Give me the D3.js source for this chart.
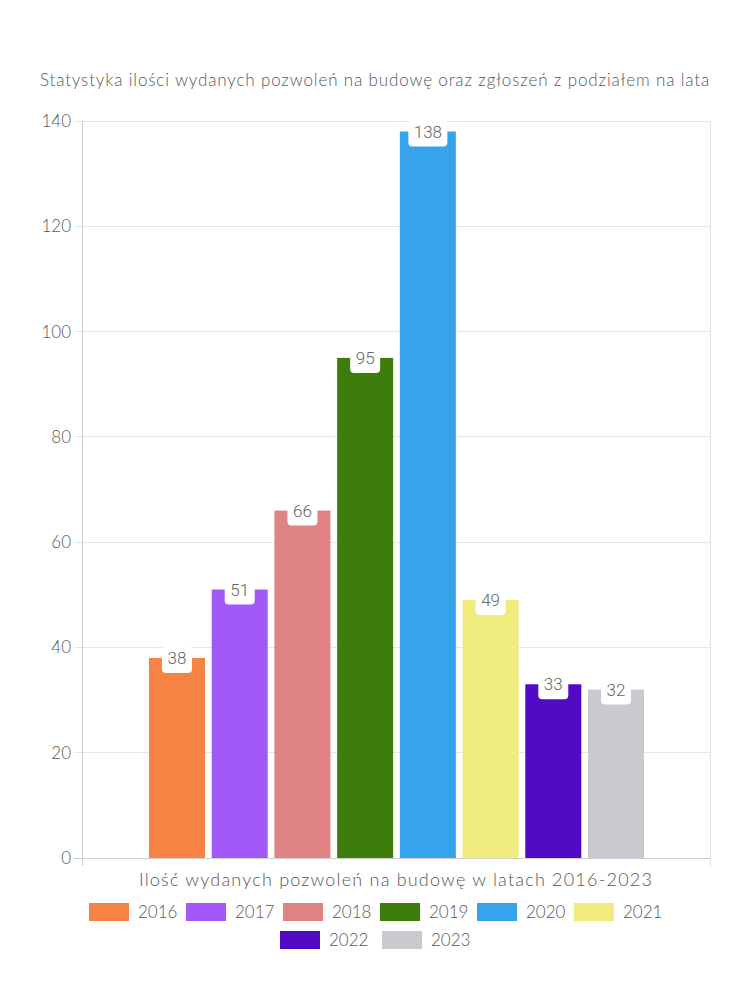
<!DOCTYPE html>
<html><head><meta charset="utf-8">
<script src="https://cdn.jsdelivr.net/npm/d3@7"></script>
<style>body{margin:0;background:#fff}</style>
</head><body><div id="chart"></div>
<script>
const categories = ["Ilość wydanych pozwoleń na budowę w latach 2016-2023"];
const seriesNames = ["2016","2017","2018","2019","2020","2021","2022","2023"];
const seriesValues = [38,51,66,95,138,49,33,32];
const seriesColors = ["#F58442","#A259FA","#E08385","#3E7C0C","#37A3EA","#F0EB7D","#520AC4","#C9CACF"];
const yTicks = [0,20,40,60,80,100,120,140];
const title = "Statystyka ilości wydanych pozwoleń na budowę oraz zgłoszeń z podziałem na lata";

(function(){
const W=750,H=1000, pL=82, pR=710, pT=121, pB=858;
const font = "Lato, 'Noto Sans', sans-serif";
const txt = "#575757";
const svg = d3.select("#chart").append("svg").attr("width",W).attr("height",H).style("font-family",font);

const y = d3.scaleLinear().domain([0,140]).range([pB,pT]);
const x0 = d3.scaleBand().domain(categories).range([pL,pR]).paddingInner(0).paddingOuter(0);
const gw = 495, c0 = x0(categories[0]) + x0.bandwidth()/2 + 0.5;
const x1 = d3.scaleBand().domain(seriesNames).range([c0-gw/2, c0+gw/2]).paddingInner(0.107).paddingOuter(0);

// grid
svg.append("g").selectAll("line").data(yTicks).join("line")
  .attr("x1",pL-8).attr("x2",pR).attr("y1",d=>y(d)).attr("y2",d=>y(d))
  .attr("stroke",d=>d===0?"#cfcfcf":"#e6e6e6").attr("stroke-width",1).attr("shape-rendering","crispEdges");
svg.append("line").attr("x1",pL).attr("x2",pL).attr("y1",pT).attr("y2",pB+8).attr("stroke","#cfcfcf").attr("shape-rendering","crispEdges");
svg.append("line").attr("x1",pR).attr("x2",pR).attr("y1",pT).attr("y2",pB+8).attr("stroke","#e6e6e6").attr("shape-rendering","crispEdges");

svg.append("g").selectAll("text").data(yTicks).join("text")
  .attr("x",pL-11).attr("y",d=>y(d)).attr("dy","0.35em").attr("text-anchor","end")
  .attr("font-size",17).attr("font-weight",300).attr("fill",txt).text(d=>d);

// bars
const bars = seriesNames.map((n,i)=>({name:n,value:seriesValues[i],color:seriesColors[i]}));
svg.append("g").selectAll("rect").data(bars).join("rect")
  .attr("x",d=>x1(d.name)).attr("width",x1.bandwidth())
  .attr("y",d=>y(d.value)).attr("height",d=>y(0)-y(d.value)).attr("fill",d=>d.color);

// labels
const lg = svg.append("g").selectAll("g").data(bars).join("g")
  .attr("transform",d=>`translate(${x1(d.name)+x1.bandwidth()/2},${y(d.value)})`);
lg.append("rect").attr("x",d=>-(String(d.value).length*9+12)/2).attr("width",d=>String(d.value).length*9+12)
  .attr("y",-12).attr("height",27).attr("rx",4).attr("fill","#fff");
lg.append("text").attr("text-anchor","middle").attr("y",6).attr("font-size",17).attr("fill","#666")
  .attr("font-weight",300).attr("font-family","Roboto, sans-serif").text(d=>d.value);

// titles
svg.append("text").attr("x",375).attr("y",86).attr("text-anchor","middle").attr("font-size",17)
  .attr("font-weight",300).attr("letter-spacing",0.85).attr("fill",txt).text(title);
svg.append("text").attr("x",(pL+pR)/2).attr("y",886).attr("text-anchor","middle").attr("font-size",18)
  .attr("font-weight",300).attr("letter-spacing",1.2).attr("fill",txt).text(categories[0]);

// legend
const rows=[seriesNames.slice(0,6),seriesNames.slice(6)];
rows.forEach((row,ri)=>{
  const g=svg.append("g");
  row.forEach((n,j)=>{
    const i=seriesNames.indexOf(n);
    const gx = ri===0? 89+j*97 : 280+j*102;
    const gy = ri===0? 903 : 931;
    g.append("rect").attr("x",gx).attr("y",gy).attr("width",40).attr("height",18).attr("fill",seriesColors[i]);
    g.append("text").attr("x",gx+49).attr("y",gy+9).attr("dy","0.35em").attr("font-size",17)
      .attr("font-weight",300).attr("fill",txt).text(n);
  });
});
})();
</script></body></html>
